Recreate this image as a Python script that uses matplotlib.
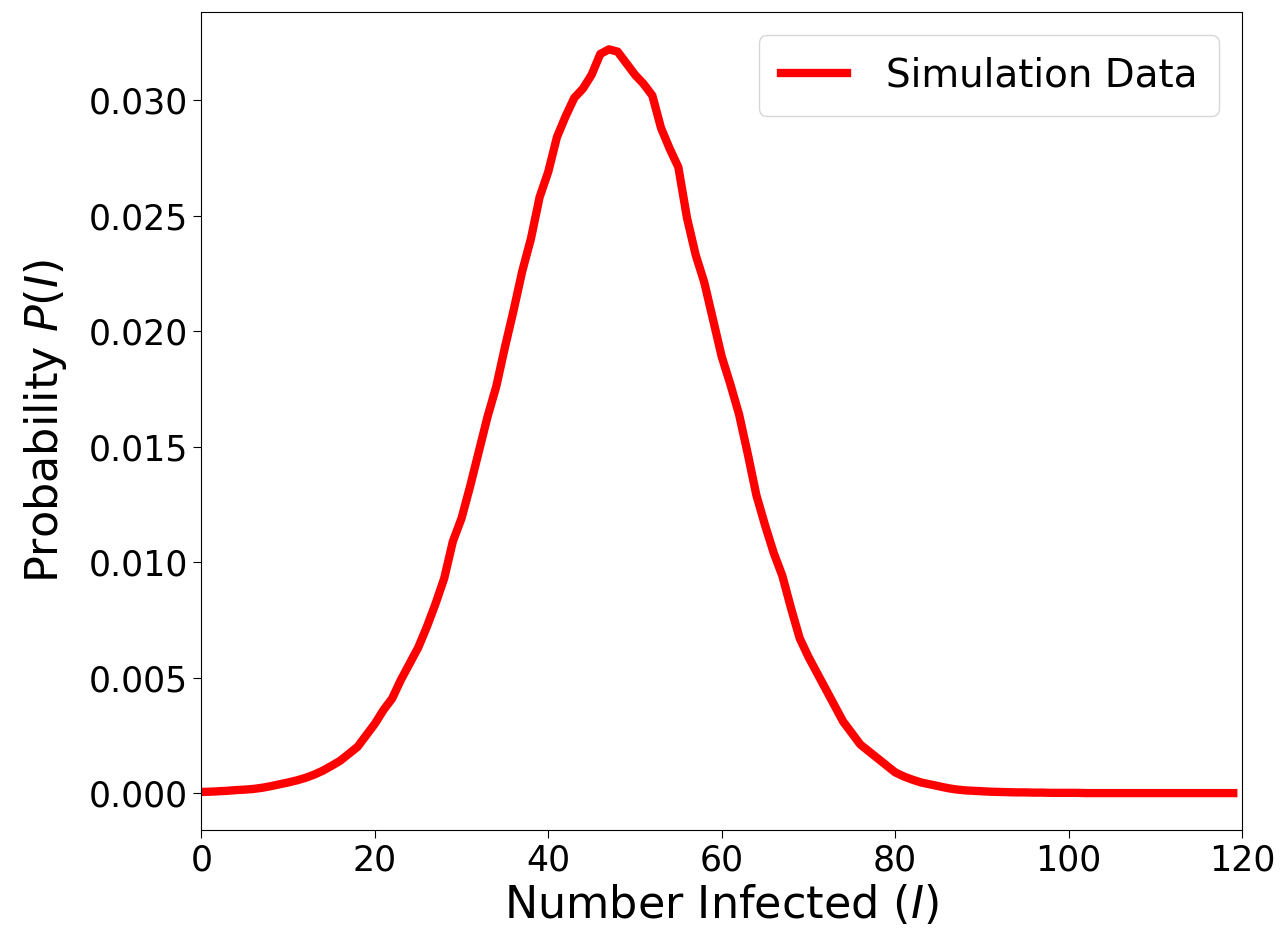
import numpy as np
import matplotlib
matplotlib.use("Agg")
import matplotlib.pyplot as plt

# === DATA ===
infected = list(range(0, 121))
prob = [
    0.00005, 0.00006, 0.00008, 0.00010, 0.00013, 0.00015, 0.00018, 0.00023, 0.00030, 0.00038,
    0.00046, 0.00055, 0.00066, 0.00080, 0.00097, 0.00118, 0.00140, 0.00170, 0.00200, 0.00250,
    0.00300, 0.00360, 0.00410, 0.00490, 0.00560, 0.00630, 0.00720, 0.00820, 0.00930, 0.01090,
    0.01190, 0.01330, 0.01480, 0.01630, 0.01760, 0.01930, 0.02090, 0.02260, 0.02400, 0.02580,
    0.02690, 0.02840, 0.02930, 0.03010, 0.03050, 0.03110, 0.03200, 0.03220, 0.03210, 0.03160,
    0.03110, 0.03070, 0.03020, 0.02880, 0.02790, 0.02710, 0.02490, 0.02330, 0.02210, 0.02050,
    0.01890, 0.01770, 0.01640, 0.01470, 0.01290, 0.01160, 0.01040, 0.00940, 0.00800, 0.00670,
    0.00590, 0.00520, 0.00450, 0.00380, 0.00310, 0.00260, 0.00210, 0.00180, 0.00150, 0.00120,
    0.00090, 0.00072, 0.00058, 0.00046, 0.00038, 0.00030, 0.00022, 0.00016, 0.00012, 0.00010,
    0.00008, 0.00006, 0.00005, 0.00004, 0.00003, 0.00003, 0.00002, 0.00002, 0.00001, 0.00001,
    0.00001, 0.00001, 0.0, 0.0, 0.0, 0.0, 0.0, 0.0, 0.0, 0.0,
    0.0, 0.0, 0.0, 0.0, 0.0, 0.0, 0.0, 0.0, 0.0, 0.0,
    0.0,
]
x_ticks = [0, 20, 40, 60, 80, 100, 120]

fig, ax = plt.subplots(figsize=(12.83, 9.35), dpi=100)
ax.plot(infected[:120], prob[:120], color="red", lw=6, label="Simulation Data")
ax.set_xlim(0, 120)
ax.set_xticks(x_ticks)
ax.set_xlabel("Number Infected ($I$)", fontsize=32)
ax.set_ylabel("Probability $P(I)$", fontsize=32, labelpad=14)
ax.tick_params(labelsize=25, length=6)
ax.legend(fontsize=28, loc="upper right", handlelength=1.7,
          handletextpad=1.0, borderpad=0.55, borderaxespad=0.6)

fig.subplots_adjust(left=0.157, right=0.968, top=0.987, bottom=0.112)
fig.savefig("out.png", dpi=100)
